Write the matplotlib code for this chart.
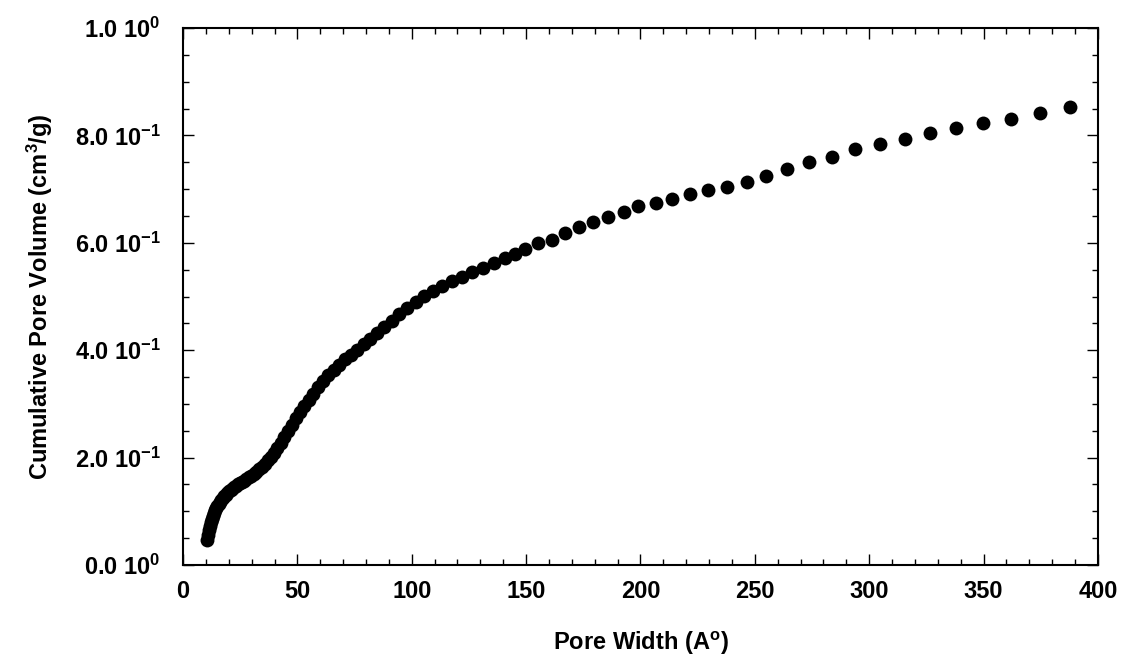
import matplotlib
matplotlib.use("Agg")
import matplotlib.pyplot as plt
from matplotlib.ticker import MultipleLocator, FixedLocator

plt.rcParams['font.family'] = ['Liberation Sans', 'DejaVu Sans']
plt.rcParams['font.weight'] = 'bold'
plt.rcParams['mathtext.fontset'] = 'custom'
plt.rcParams['mathtext.rm'] = 'Liberation Sans:bold'
plt.rcParams['mathtext.bf'] = 'Liberation Sans:bold'
plt.rcParams['mathtext.default'] = 'rm'

# pore width (A) and cumulative pore volume (cm3/g)
pore_width = [
    10.5, 10.9, 11.3, 11.7, 12.1, 12.5, 13.0, 13.5, 14.0, 14.5,
    15.0, 15.6, 16.1, 16.7, 17.3, 18.0, 18.6, 19.3, 20.0, 20.8,
    21.5, 22.3, 23.1, 24.0, 24.9, 25.8, 26.7, 27.7, 28.7, 29.8,
    30.9, 32.0, 33.2, 34.4, 35.7, 37.0, 38.4, 39.8, 41.2, 42.7,
    44.3, 45.9, 47.6, 49.4, 51.2, 53.1, 55.0, 57.0, 59.1, 61.3,
    63.6, 65.9, 68.3, 70.8, 73.5, 76.2, 79.0, 81.9, 84.9, 88.0,
    91.3, 94.6, 98.1, 101.7, 105.5, 109.4, 113.4, 117.6, 121.9, 126.4,
    131.1, 135.9, 140.9, 145.0, 149.5, 155.3, 161.4, 167.0, 173.2, 179.4,
    185.7, 192.7, 198.9, 206.6, 213.6, 221.6, 229.3, 237.7, 246.4, 254.9,
    264.2, 273.5, 283.7, 293.6, 304.7, 315.5, 326.6, 337.9, 349.9, 362.1,
    374.6, 387.8,
]
pore_volume = [
    0.046, 0.056, 0.065, 0.073, 0.080, 0.086, 0.092, 0.097, 0.102, 0.106,
    0.110, 0.114, 0.118, 0.121, 0.124, 0.128, 0.131, 0.134, 0.137, 0.140,
    0.142, 0.145, 0.147, 0.150, 0.152, 0.155, 0.157, 0.160, 0.163, 0.166,
    0.170, 0.174, 0.178, 0.183, 0.189, 0.195, 0.202, 0.209, 0.218, 0.228,
    0.239, 0.250, 0.261, 0.273, 0.285, 0.297, 0.308, 0.319, 0.331, 0.342,
    0.353, 0.363, 0.373, 0.383, 0.392, 0.401, 0.411, 0.421, 0.432, 0.443,
    0.455, 0.467, 0.479, 0.490, 0.501, 0.511, 0.520, 0.529, 0.537, 0.545,
    0.554, 0.563, 0.571, 0.579, 0.5885, 0.599, 0.605, 0.619, 0.629, 0.638,
    0.649, 0.658, 0.668, 0.675, 0.682, 0.691, 0.698, 0.7045, 0.714, 0.724,
    0.737, 0.750, 0.760, 0.774, 0.784, 0.793, 0.804, 0.813, 0.824, 0.830,
    0.841, 0.853,
]

x_ticks = [0, 50, 100, 150, 200, 250, 300, 350, 400]
y_ticks = [0.0, 0.2, 0.4, 0.6, 0.8, 1.0]
y_ticklabels = [r'0.0 10$^{0}$', r'2.0 10$^{-1}$', r'4.0 10$^{-1}$',
                r'6.0 10$^{-1}$', r'8.0 10$^{-1}$', r'1.0 10$^{0}$']

fig = plt.figure(figsize=(11.29, 6.58), dpi=100)
ax = fig.add_axes([0.1621, 0.1413, 0.8104, 0.8161])

ax.plot(pore_width, pore_volume, 'o', color='black', markersize=10,
        markeredgewidth=0)

ax.set_xlim(0, 400)
ax.set_ylim(0, 1.0)
ax.xaxis.set_major_locator(FixedLocator(x_ticks))
ax.xaxis.set_minor_locator(MultipleLocator(10))
ax.yaxis.set_major_locator(FixedLocator(y_ticks))
ax.yaxis.set_minor_locator(MultipleLocator(0.05))
ax.set_xticklabels([str(t) for t in x_ticks])
ax.set_yticklabels(y_ticklabels)

ax.tick_params(which='both', direction='in', top=True, right=True,
               width=1.0, labelsize=17)
ax.tick_params(which='major', length=8)
ax.tick_params(which='minor', length=4.5)
ax.tick_params(axis='x', pad=11)
ax.tick_params(axis='y', pad=16)
for s in ax.spines.values():
    s.set_linewidth(1.5)

ax.set_xlabel(r'Pore Width (A$^{o}$)', fontsize=17, fontweight='bold',
              labelpad=19)
ax.set_ylabel(r'Cumulative Pore Volume (cm$^{3}$/g)', fontsize=17,
              fontweight='bold', labelpad=14)

fig.savefig('out.png', dpi=100)
